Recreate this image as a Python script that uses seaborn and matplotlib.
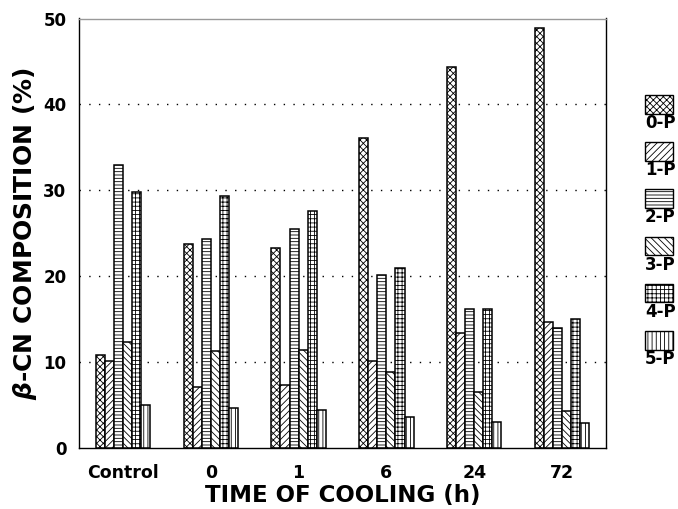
import matplotlib
matplotlib.use("Agg")
import matplotlib.pyplot as plt
import seaborn as sns
import pandas as pd
from matplotlib.patches import Rectangle

times = ["Control", "0", "1", "6", "24", "72"]
series = ["0-P", "1-P", "2-P", "3-P", "4-P", "5-P"]
p0 = [10.9, 23.8, 23.3, 36.1, 44.3, 48.9]
p1 = [10.1, 7.1, 7.4, 10.2, 13.4, 14.7]
p2 = [32.9, 24.3, 25.5, 20.2, 16.2, 14.0]
p3 = [12.4, 11.3, 11.4, 8.9, 6.5, 4.3]
p4 = [29.8, 29.4, 27.6, 21.0, 16.2, 15.0]
p5 = [5.0, 4.7, 4.4, 3.6, 3.1, 2.9]
yticks = [0, 10, 20, 30, 40, 50]

hatches = ["xxxxx", "/////", "-----", "\\\\\\\\\\", "++++", "||||"]

rows = []
for s, vals in zip(series, [p0, p1, p2, p3, p4, p5]):
    for t, v in zip(times, vals):
        rows.append({"time": t, "series": s, "value": v})
df = pd.DataFrame(rows)

sns.set_theme(style="white")
plt.rcParams["font.family"] = ["DejaVu Sans"]
plt.rcParams["hatch.linewidth"] = 0.6
plt.rcParams["text.color"] = "black"
plt.rcParams["axes.labelcolor"] = "black"
plt.rcParams["xtick.color"] = "black"
plt.rcParams["ytick.color"] = "black"

fig = plt.figure(figsize=(6.78, 5.09), dpi=100)
ax = fig.add_axes([79 / 678, 1 - 448.3 / 509, (606 - 79) / 678, (448.3 - 18.5) / 509])

sns.barplot(data=df, x="time", y="value", hue="series", order=times,
            hue_order=series, width=0.62, gap=0, dodge=True,
            palette=["white"] * 6, edgecolor="black", linewidth=1.1,
            legend=False, ax=ax, zorder=3)

for cont, h in zip(ax.containers, hatches):
    for bar in cont:
        bar.set_hatch(h)
        bar.set_facecolor("white")
        bar.set_edgecolor("black")

ax.set_xlim(-0.5, 5.5)
ax.set_ylim(0, 50)
ax.set_yticks(yticks)
ax.set_yticklabels([str(v) for v in yticks], fontsize=12, fontweight="bold")
ax.set_xticklabels(times, fontsize=12.5, fontweight="bold")
ax.tick_params(axis="y", length=0, pad=9)
ax.tick_params(axis="x", which="major", length=0, pad=11)
ax.set_xticks([0.5, 1.5, 2.5, 3.5, 4.5], minor=True)
ax.tick_params(axis="x", which="minor", length=5, width=1, direction="out", color="black")

for y in yticks[1:-1]:
    ax.axhline(y, color="black", linestyle=(0, (1, 6)), linewidth=1, zorder=1)

for side in ["left", "bottom", "right"]:
    ax.spines[side].set_color("black")
    ax.spines[side].set_linewidth(1)
ax.spines["top"].set_color("0.6")
ax.spines["top"].set_linewidth(1)

ax.set_xlabel("TIME OF COOLING (h)", fontsize=16.5, fontweight="bold", labelpad=2)
ax.set_ylabel(r"$\mathbfit{\beta}$-CN COMPOSITION (%)", fontsize=18,
              fontweight="bold", labelpad=3)

# legend: patch above each label
W, H = 678, 509
for i, (s, h) in enumerate(zip(series, hatches)):
    top = 95 + i * 47.2
    r = Rectangle((645 / W, 1 - (top + 18.5) / H), 28 / W, 18.5 / H,
                  transform=fig.transFigure, facecolor="white",
                  edgecolor="black", linewidth=1, hatch=h)
    fig.add_artist(r)
    fig.text(645 / W, 1 - (top + 28) / H, s, fontsize=12, fontweight="bold",
             ha="left", va="center")

fig.savefig("out.png", dpi=100)
